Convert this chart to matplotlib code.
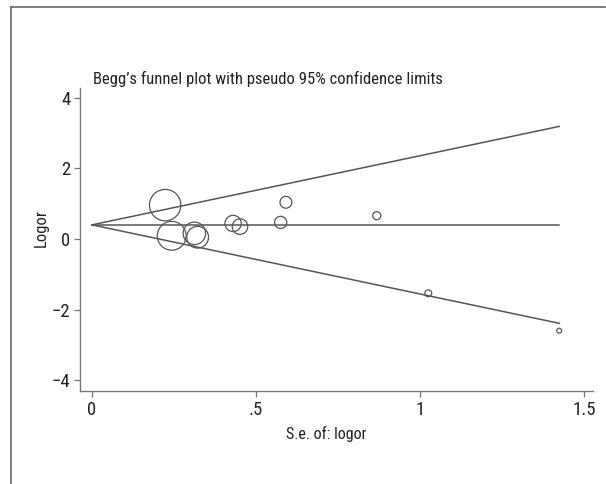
import matplotlib
matplotlib.use("Agg")
import matplotlib.pyplot as plt
from matplotlib.lines import Line2D
from matplotlib import font_manager as fm
import numpy as np

# pick a condensed/narrow sans font if one is installed
cands = []
for f in fm.fontManager.ttflist:
    n = f.name
    path = f.fname.lower()
    cond = ('narrow' in n.lower() or 'condensed' in n.lower() or 'condensed' in path or 'narrow' in path
            or f.stretch in ('condensed', 'semi-condensed', 'extra-condensed', 550, 600) )
    if cond and f.weight in ('normal', 400, 'regular', 'book') and f.style == 'normal' and 'mono' not in path and 'serif' not in n.lower():
        cands.append(f)
pref = ['liberation', 'roboto', 'open', 'noto', 'dejavu']
cands.sort(key=lambda f: next((i for i, p in enumerate(pref) if p in f.fname.lower()), 99))
if cands:
    fam_name = cands[0].name
    fm.fontManager.addfont(cands[0].fname)
    plt.rcParams['font.family'] = [fam_name, 'DejaVu Sans']
else:
    plt.rcParams['font.family'] = ['Roboto', 'DejaVu Sans']

# Data
se = [0.223, 0.243, 0.312, 0.322, 0.430, 0.451, 0.575, 0.591, 0.868, 1.025, 1.424]
logor = [0.96, 0.09, 0.16, 0.05, 0.44, 0.35, 0.47, 1.04, 0.66, -1.54, -2.60]
pooled = 0.40
xticks = [0, 0.5, 1, 1.5]
xticklabels = ['0', '.5', '1', '1.5']
yticks = [-4, -2, 0, 2, 4]
yticklabels = ['\u22124', '\u22122', '0', '2', '4']

W, H = 606, 484
fig = plt.figure(figsize=(W / 100, H / 100), dpi=100)
ax = fig.add_axes([80 / W, (H - 391) / H, (593 - 80) / W, (391 - 88) / H])

se_arr = np.array(se)
lg = np.array(logor)
smax = se_arr.max()
xs = np.array([0, smax])
lc = '#555555'
ax.plot(xs, [pooled, pooled], color=lc, lw=1.1)
ax.plot(xs, pooled + 1.96 * xs, color=lc, lw=1.1)
ax.plot(xs, pooled - 1.96 * xs, color=lc, lw=1.1)

ms = 5.04 / se_arr  # diameter in points, proportional to 1/se
ax.scatter(se_arr, lg, s=ms ** 2, facecolors='none', edgecolors='#555555', linewidths=0.9)

ax.set_xlim(-0.0366, 1.527)
ax.set_ylim(-4.31, 4.28)
ax.set_xticks(xticks)
ax.set_xticklabels(xticklabels)
ax.set_yticks(yticks)
ax.set_yticklabels(yticklabels)
for s in ['top', 'right']:
    ax.spines[s].set_visible(False)
for s in ['left', 'bottom']:
    ax.spines[s].set_color('#777777')
    ax.spines[s].set_linewidth(1.0)
ax.tick_params(axis='both', direction='out', length=4, width=0.9, color='#777777',
               labelsize=13.5, labelcolor='#222222', pad=3)
ax.set_xlabel('S.e. of: logor', fontsize=11.5, color='#222222')
ax.set_ylabel('Logor', fontsize=12, color='#222222')
ax.xaxis.set_label_coords((326 - 80) / 513, -0.142)
ax.yaxis.set_label_coords(-0.076, 0.538)
ax.xaxis.label.set_va('center')
ax.yaxis.label.set_va('center')

fig.text(93 / W, 1 - 79 / H, "Begg\u2019s funnel plot with pseudo 95% confidence limits",
         fontsize=12, color='#222222', va='center', ha='left')

# outer border (left and top)
fig.add_artist(Line2D([11 / W, 11 / W], [0, 1 - 7 / H], transform=fig.transFigure, color='#666666', lw=1.2))
fig.add_artist(Line2D([11 / W, 605 / W], [1 - 7 / H, 1 - 7 / H], transform=fig.transFigure, color='#666666', lw=1.2))

fig.savefig('out.png', dpi=100)
